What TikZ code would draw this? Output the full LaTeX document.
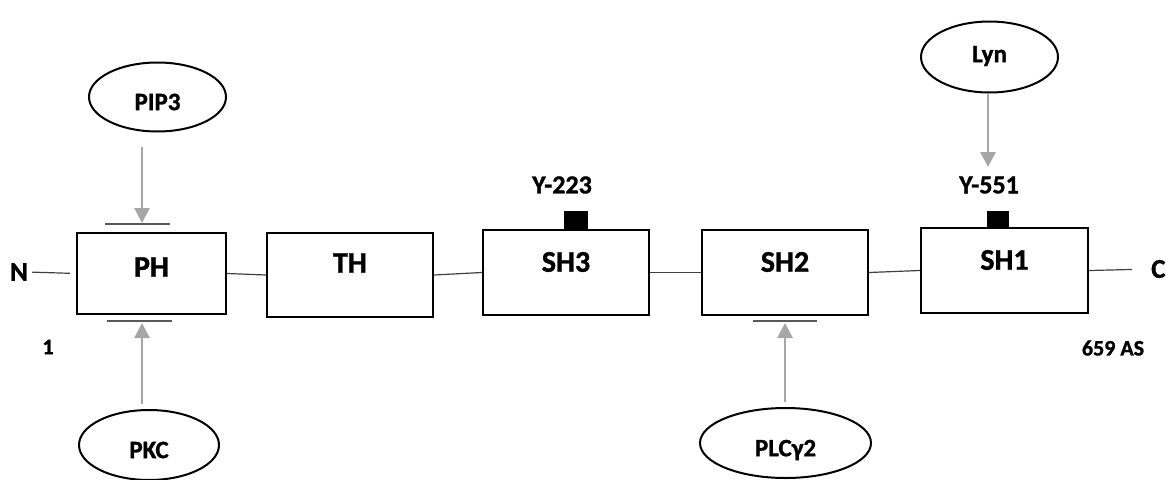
\documentclass[tikz,border=0pt]{standalone}
\usepackage{fontspec}
\setmainfont{Carlito}[BoldFeatures={FakeBold=1.2}]
\usetikzlibrary{arrows.meta,shapes.geometric}
\begin{document}
\begin{tikzpicture}[x=1pt,y=-1pt,
  dom/.style={draw=black, line width=2.4pt, inner sep=0pt},
  boxlbl/.style={font=\bfseries\fontsize{30}{30}\selectfont, inner sep=0pt},
  oval/.style={ellipse, draw=black, line width=2pt, inner sep=0pt},
  ovallbl/.style={font=\bfseries\fontsize{25}{25}\selectfont, inner sep=0pt},
  tag/.style={font=\bfseries\fontsize{26}{26}\selectfont, inner sep=0pt},
  endlbl/.style={font=\bfseries\fontsize{27}{27}\selectfont, inner sep=0pt},
  numlbl/.style={font=\bfseries\fontsize{22}{22}\selectfont, inner sep=0pt},
  link/.style={draw=black!75, line width=1.2pt},
  bar/.style={draw=black!65, line width=1.4pt},
  garrow/.style={draw=black!35, line width=2.8pt,
    -{Triangle[width=15pt,length=15pt]}},
  site/.style={fill=black, inner sep=0pt, anchor=south}]
\useasboundingbox (0,0) rectangle (1166,479);

% domains
\node[dom, minimum width=149pt, minimum height=81pt, label={[boxlbl, yshift=6.5pt]center:PH}]  (PH)  at (151.5,273.5) {};
\node[dom, minimum width=166pt, minimum height=84pt, label={[boxlbl, yshift=12pt]center:TH}]  (TH)  at (350,275) {};
\node[dom, minimum width=166pt, minimum height=85pt, label={[boxlbl, yshift=10.5pt]center:SH3}] (SH3) at (566,272.5) {};
\node[dom, minimum width=166pt, minimum height=85pt, label={[boxlbl, yshift=10.5pt]center:SH2}] (SH2) at (785,272.5) {};
\node[dom, minimum width=167pt, minimum height=85pt, label={[boxlbl, yshift=10.5pt]center:SH1}] (SH1) at (1004.5,270.5) {};

% termini
\node[endlbl] (N) at (19,272) {N};
\node[endlbl, anchor=west] (C) at (1151,269) {C};
\node[numlbl] (n1) at (48,347) {1};
\node[numlbl] (n659) at (1113,348) {659 AS};

% links
\draw[link, shorten <=4pt, shorten >=6pt] (N.east) -- (PH.west);
\draw[link] (PH.east) -- (TH.west);
\draw[link] (TH.east) -- (SH3.west);
\draw[link] (SH3.east) -- (SH2.west);
\draw[link] (SH2.east) -- (SH1.west);
\draw[link, shorten >=19pt] (SH1.east) -- (C.west);

% phosphorylation sites
\node[site, minimum width=24pt, minimum height=19pt] (p223) at (576,230) {};
\node[site, minimum width=22pt, minimum height=17pt] (p551) at (998,228) {};
\node[tag] (Y223) at (562,185) {Y-223};
\node[tag] (Y551) at (989,185) {Y-551};

% interaction partners
\node[oval, minimum width=137pt, minimum height=69pt, label={[ovallbl, yshift=-5pt]center:PIP3}] (PIP3) at (157.5,97) {};
\node[oval, minimum width=137pt, minimum height=71pt, label={[ovallbl, yshift=1pt]center:Lyn}] (Lyn)  at (989.5,57) {};
\node[oval, minimum width=140pt, minimum height=70pt, label={[ovallbl, yshift=-5pt]center:PKC}] (PKC)  at (149,445) {};
\node[oval, minimum width=171pt, minimum height=70pt, label={[ovallbl, yshift=-7pt]center:PLCγ2}] (PLC)  at (785.5,443) {};

% binding bars
\draw[bar] (105,224) coordinate (b1a) -- (170,224) coordinate (b1b);
\draw[bar] (107,321) coordinate (b2a) -- (172,321) coordinate (b2b);
\draw[bar] (753,321) coordinate (b3a) -- (817,321) coordinate (b3b);

% arrows
\coordinate (a1s) at (142,147); \coordinate (a1e) at (142,223);
\coordinate (a2s) at (142,404); \coordinate (a2e) at (142,323);
\coordinate (a3s) at (785,402); \coordinate (a3e) at (785,323);
\coordinate (a4e) at (988,167);
\draw[garrow] (a1s) -- (a1e);
\draw[garrow] (a2s) -- (a2e);
\draw[garrow] (a3s) -- (a3e);
\draw[garrow] (Lyn.south -| a4e) -- (a4e);
\end{tikzpicture}
\end{document}
